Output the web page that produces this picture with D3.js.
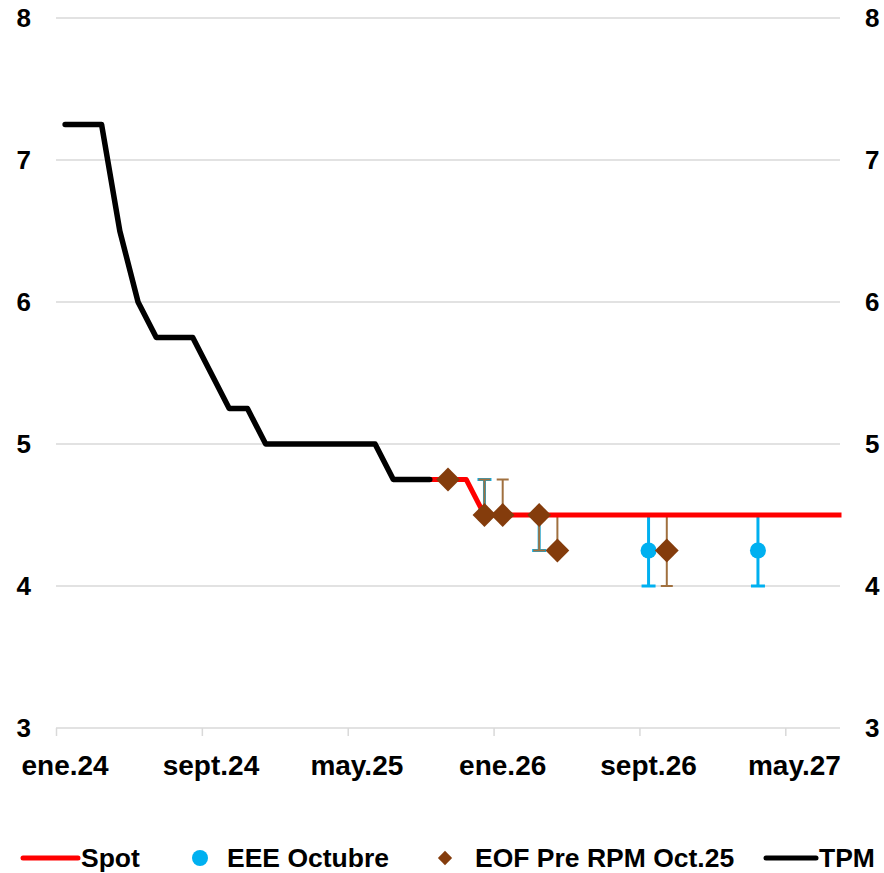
<!DOCTYPE html>
<html>
<head>
<script src="https://cdn.jsdelivr.net/npm/d3@7"></script>
<style>
  body { margin: 0; background: #fff; }
  text { font-family: "Liberation Sans", Arial, sans-serif; font-weight: bold; fill: #000; }
  .grid line { stroke: #d9d9d9; stroke-width: 1.5; }
</style>
</head>
<body>
<script>
// month index 0 = ene.24
var tickLabels = ["ene.24", "sept.24", "may.25", "ene.26", "sept.26", "may.27"];
var tickMonths = [0, 8, 16, 24, 32, 40];
var nMonths = 43;

var tpmStart = 0;
var tpm = [7.25, 7.25, 7.25, 6.5, 6.0, 5.75, 5.75, 5.75, 5.5, 5.25, 5.25, 5.0,
           5.0, 5.0, 5.0, 5.0, 5.0, 5.0, 4.75, 4.75, 4.75];

var spotStart = 20;
var spot = [4.75, 4.75, 4.75, 4.5, 4.5, 4.5, 4.5, 4.5, 4.5, 4.5, 4.5, 4.5, 4.5,
            4.5, 4.5, 4.5, 4.5, 4.5, 4.5, 4.5, 4.5, 4.5, 4.5, 4.5];

var eeeMonth = [23, 26, 32, 38];
var eeeVal   = [4.5, 4.5, 4.25, 4.25];
var eeeLow   = [4.5, 4.25, 4.0, 4.0];
var eeeHigh  = [4.75, 4.5, 4.5, 4.5];

var eofMonth = [21, 23, 24, 26, 27, 33];
var eofVal   = [4.75, 4.5, 4.5, 4.5, 4.25, 4.25];
var eofLow   = [4.75, 4.5, 4.5, 4.25, 4.25, 4.0];
var eofHigh  = [4.75, 4.75, 4.75, 4.5, 4.5, 4.5];

var yTicks = [3, 4, 5, 6, 7, 8];

var width = 884, height = 873;
var plotLeft = 56, plotRight = 840, plotTop = 18, plotBottom = 728;

var svg = d3.select("body").append("svg")
  .attr("width", width).attr("height", height);

var x = d3.scaleLinear().domain([-0.5, nMonths - 0.5]).range([plotLeft, plotRight]);
var y = d3.scaleLinear().domain([3, 8]).range([plotBottom, plotTop]);

svg.append("defs").append("clipPath").attr("id", "plot")
  .append("rect").attr("x", 0).attr("y", 0).attr("width", plotRight + 1.5).attr("height", height);

// gridlines
svg.append("g").attr("class", "grid")
  .selectAll("line").data(yTicks).join("line")
  .attr("x1", plotLeft).attr("x2", plotRight)
  .attr("y1", d => y(d)).attr("y2", d => y(d));

// x axis ticks (between categories)
var xAxis = d3.axisBottom(x)
  .tickValues(tickMonths.map(d => d - 0.5))
  .tickFormat("")
  .tickSize(8)
  .tickSizeOuter(0);
var ax = svg.append("g").attr("transform", "translate(0," + plotBottom + ")").call(xAxis);
ax.select(".domain").remove();
ax.selectAll("line").attr("stroke", "#d9d9d9").attr("stroke-width", 1.5);

svg.append("g").selectAll("text").data(tickLabels).join("text")
  .attr("x", (d, i) => x(tickMonths[i]))
  .attr("y", 775)
  .attr("text-anchor", "middle")
  .style("font-size", "28px")
  .text(d => d);

// y labels both sides
svg.append("g").selectAll("text").data(yTicks).join("text")
  .attr("x", 31).attr("y", d => y(d) + 9)
  .attr("text-anchor", "end")
  .style("font-size", "26px")
  .text(d => d);
svg.append("g").selectAll("text").data(yTicks).join("text")
  .attr("x", 865).attr("y", d => y(d) + 9)
  .attr("text-anchor", "start")
  .style("font-size", "26px")
  .text(d => d);

function errorBars(months, lows, highs, color, w, capW) {
  var g = svg.append("g").attr("stroke", color).attr("stroke-width", w);
  months.forEach(function(m, i) {
    var cx = x(m);
    g.append("line").attr("x1", cx).attr("x2", cx).attr("y1", y(lows[i])).attr("y2", y(highs[i]));
    if (lows[i] !== highs[i]) {
      g.append("line").attr("x1", cx - capW / 2).attr("x2", cx + capW / 2).attr("y1", y(lows[i])).attr("y2", y(lows[i]));
      g.append("line").attr("x1", cx - capW / 2).attr("x2", cx + capW / 2).attr("y1", y(highs[i])).attr("y2", y(highs[i]));
    }
  });
}
errorBars(eeeMonth, eeeLow, eeeHigh, "#00b0f0", 3, 14);
errorBars(eofMonth, eofLow, eofHigh, "#a0703f", 2, 12);

var line = d3.line().x(d => x(d[0])).y(d => y(d[1]));

svg.append("path")
  .datum(spot.map((v, i) => [spotStart + i, v]))
  .attr("clip-path", "url(#plot)")
  .attr("d", line)
  .attr("fill", "none").attr("stroke", "#ff0000").attr("stroke-width", 5)
  .attr("stroke-linejoin", "round");

svg.append("path")
  .datum(tpm.map((v, i) => [tpmStart + i, v]))
  .attr("d", line)
  .attr("fill", "none").attr("stroke", "#000").attr("stroke-width", 5.5)
  .attr("stroke-linejoin", "round").attr("stroke-linecap", "round");

svg.append("g").selectAll("circle").data(eeeMonth).join("circle")
  .attr("cx", d => x(d)).attr("cy", (d, i) => y(eeeVal[i]))
  .attr("r", 8).attr("fill", "#00b0f0");

var diamond = d3.symbol().type(d3.symbolDiamond2).size(360);
svg.append("g").selectAll("path").data(eofMonth).join("path")
  .attr("transform", (d, i) => "translate(" + x(d) + "," + y(eofVal[i]) + ")")
  .attr("d", diamond).attr("fill", "#843c0c");

// legend
var lg = svg.append("g").style("font-size", "26.5px");
lg.append("line").attr("x1", 23).attr("x2", 78).attr("y1", 858).attr("y2", 858)
  .attr("stroke", "#ff0000").attr("stroke-width", 5).attr("stroke-linecap", "round");
lg.append("text").attr("x", 81).attr("y", 867).text("Spot");
lg.append("circle").attr("cx", 200).attr("cy", 858).attr("r", 8).attr("fill", "#00b0f0");
lg.append("text").attr("x", 227).attr("y", 867).text("EEE Octubre");
lg.append("path").attr("transform", "translate(445,858)")
  .attr("d", d3.symbol().type(d3.symbolDiamond2).size(130)).attr("fill", "#843c0c");
lg.append("text").attr("x", 475).attr("y", 867).text("EOF Pre RPM Oct.25");
lg.append("line").attr("x1", 766).attr("x2", 816).attr("y1", 858).attr("y2", 858)
  .attr("stroke", "#000").attr("stroke-width", 5).attr("stroke-linecap", "round");
lg.append("text").attr("x", 819).attr("y", 867).text("TPM");
</script>
</body>
</html>
